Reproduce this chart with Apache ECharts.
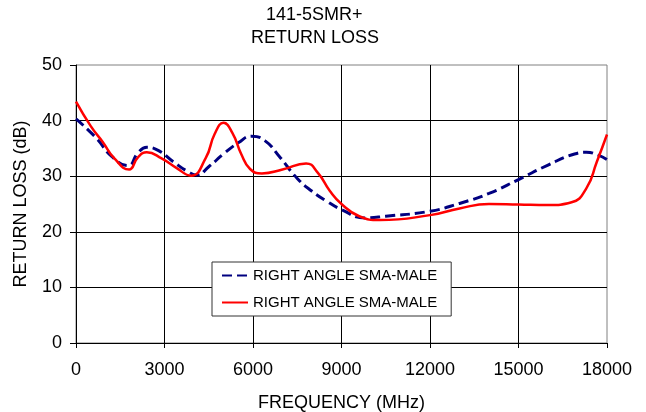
<!DOCTYPE html>
<html>
<head>
<meta charset="utf-8">
<script src="https://cdn.jsdelivr.net/npm/echarts@6/dist/echarts.min.js"></script>
<style>html,body{margin:0;padding:0;background:#fff}#c{width:646px;height:412px}</style>
</head>
<body>
<div id="c"></div>
<script>
var FONT = "'Liberation Sans', Arial, sans-serif";
var titleLines = ['141-5SMR+', 'RETURN LOSS'];
var xAxisName = 'FREQUENCY (MHz)';
var yAxisName = 'RETURN LOSS (dB)';
var legendLabels = ['RIGHT ANGLE SMA-MALE', 'RIGHT ANGLE SMA-MALE'];
var seriesNames = ['RIGHT ANGLE SMA-MALE (blue)', 'RIGHT ANGLE SMA-MALE (red)'];

// frequency (MHz), return loss (dB)
var blueFreq = [0, 700, 1200, 1770, 2100, 2400, 2800, 3300, 3800, 4100, 4500, 5000, 5500, 5950, 6400, 6900, 7500, 8000, 8500, 9000, 9800, 10500, 12000, 13000, 14000, 15000, 16000, 16900, 17300, 17700, 18000];
var blueRL   = [40.3, 36.8, 33.6, 31.9, 34.2, 35.2, 34.6, 32.6, 30.8, 30.2, 31.7, 34.0, 36.0, 37.2, 36.4, 33.5, 29.6, 27.3, 25.5, 24.0, 22.5, 22.8, 23.7, 25.1, 26.9, 29.4, 32.0, 34.0, 34.3, 33.8, 33.0];

var redFreq = [0, 500, 900, 1300, 1800, 2100, 2400, 2900, 3400, 3900, 4400, 4700, 5000, 5300, 5600, 5900, 6300, 7000, 7800, 8200, 8600, 9000, 9600, 10300, 12000, 13000, 14000, 15000, 16000, 16800, 17300, 17650, 18000];
var redRL   = [43.4, 39.0, 36.2, 33.2, 31.2, 33.4, 34.3, 33.2, 31.5, 30.1, 33.3, 37.6, 39.6, 37.8, 34.0, 31.3, 30.5, 31.2, 32.3, 30.6, 27.4, 25.0, 22.8, 22.1, 23.0, 24.2, 25.0, 24.9, 24.8, 25.3, 27.8, 32.5, 37.5];

var xTicks = {min: 0, max: 18000, interval: 3000};
var yTicks = {min: 0, max: 50, interval: 10};

function pairs(xs, ys) { return xs.map(function (x, i) { return [x, ys[i]]; }); }

var chart = echarts.init(document.getElementById('c'), null, {renderer: 'canvas'});
chart.setOption({
  animation: false,
  backgroundColor: '#ffffff',
  textStyle: {fontFamily: FONT},
  title: [
    {text: titleLines[0], left: 266, top: 6, padding: 0, textStyle: {fontFamily: FONT, fontSize: 18, fontWeight: 'normal', color: '#000'}},
    {text: titleLines[1], left: 251, top: 29, padding: 0, textStyle: {fontFamily: FONT, fontSize: 18, fontWeight: 'normal', color: '#000'}}
  ],
  grid: {left: 76, right: 39, top: 65, bottom: 69, show: true, borderColor: '#808080', borderWidth: 1, backgroundColor: '#fff', containLabel: false, outerBoundsMode: 'none'},
  legend: {
    orient: 'vertical', left: 212, top: 262,
    padding: [6, 14, 6, 9],
    itemWidth: 26, itemHeight: 14, itemGap: 12,
    backgroundColor: '#fff', borderColor: '#333', borderWidth: 1,
    itemStyle: {color: 'rgba(0,0,0,0)', borderColor: 'rgba(0,0,0,0)', borderWidth: 0},
    textStyle: {fontFamily: FONT, fontSize: 15, color: '#000'},
    data: seriesNames,
    formatter: function (n) { return legendLabels[seriesNames.indexOf(n)]; }
  },
  xAxis: {
    type: 'value', min: xTicks.min, max: xTicks.max, interval: xTicks.interval,
    name: xAxisName, nameLocation: 'middle', nameGap: 51,
    nameTextStyle: {fontFamily: FONT, fontSize: 18, color: '#000'},
    axisLine: {show: true, lineStyle: {color: '#000', width: 1}},
    axisTick: {show: true, length: 5, lineStyle: {color: '#000'}},
    axisLabel: {fontFamily: FONT, fontSize: 18, color: '#000', margin: 18, formatter: function (v) { return String(v); }},
    splitLine: {show: true, showMinLine: false, showMaxLine: false, lineStyle: {color: '#000', width: 1}}
  },
  yAxis: {
    type: 'value', min: yTicks.min, max: yTicks.max, interval: yTicks.interval,
    name: yAxisName, nameLocation: 'middle', nameGap: 46,
    nameTextStyle: {fontFamily: FONT, fontSize: 18, color: '#000'},
    axisLine: {show: true, lineStyle: {color: '#000', width: 1}},
    axisTick: {show: true, length: 6, lineStyle: {color: '#000'}},
    axisLabel: {fontFamily: FONT, fontSize: 18, color: '#000', margin: 14, formatter: function (v) { return String(v); }},
    splitLine: {show: true, showMinLine: false, showMaxLine: false, lineStyle: {color: '#000', width: 1}}
  },
  series: [
    {
      name: seriesNames[0], type: 'line', data: pairs(blueFreq, blueRL),
      showSymbol: false, symbol: 'none', smooth: 0.5,
      color: '#000080',
      lineStyle: {color: '#000080', width: 3, type: [10, 5]}
    },
    {
      name: seriesNames[1], type: 'line', data: pairs(redFreq, redRL),
      showSymbol: false, symbol: 'none', smooth: 0.5,
      color: '#ff0000',
      lineStyle: {color: '#ff0000', width: 2.5}
    }
  ]
});
</script>
</body>
</html>
